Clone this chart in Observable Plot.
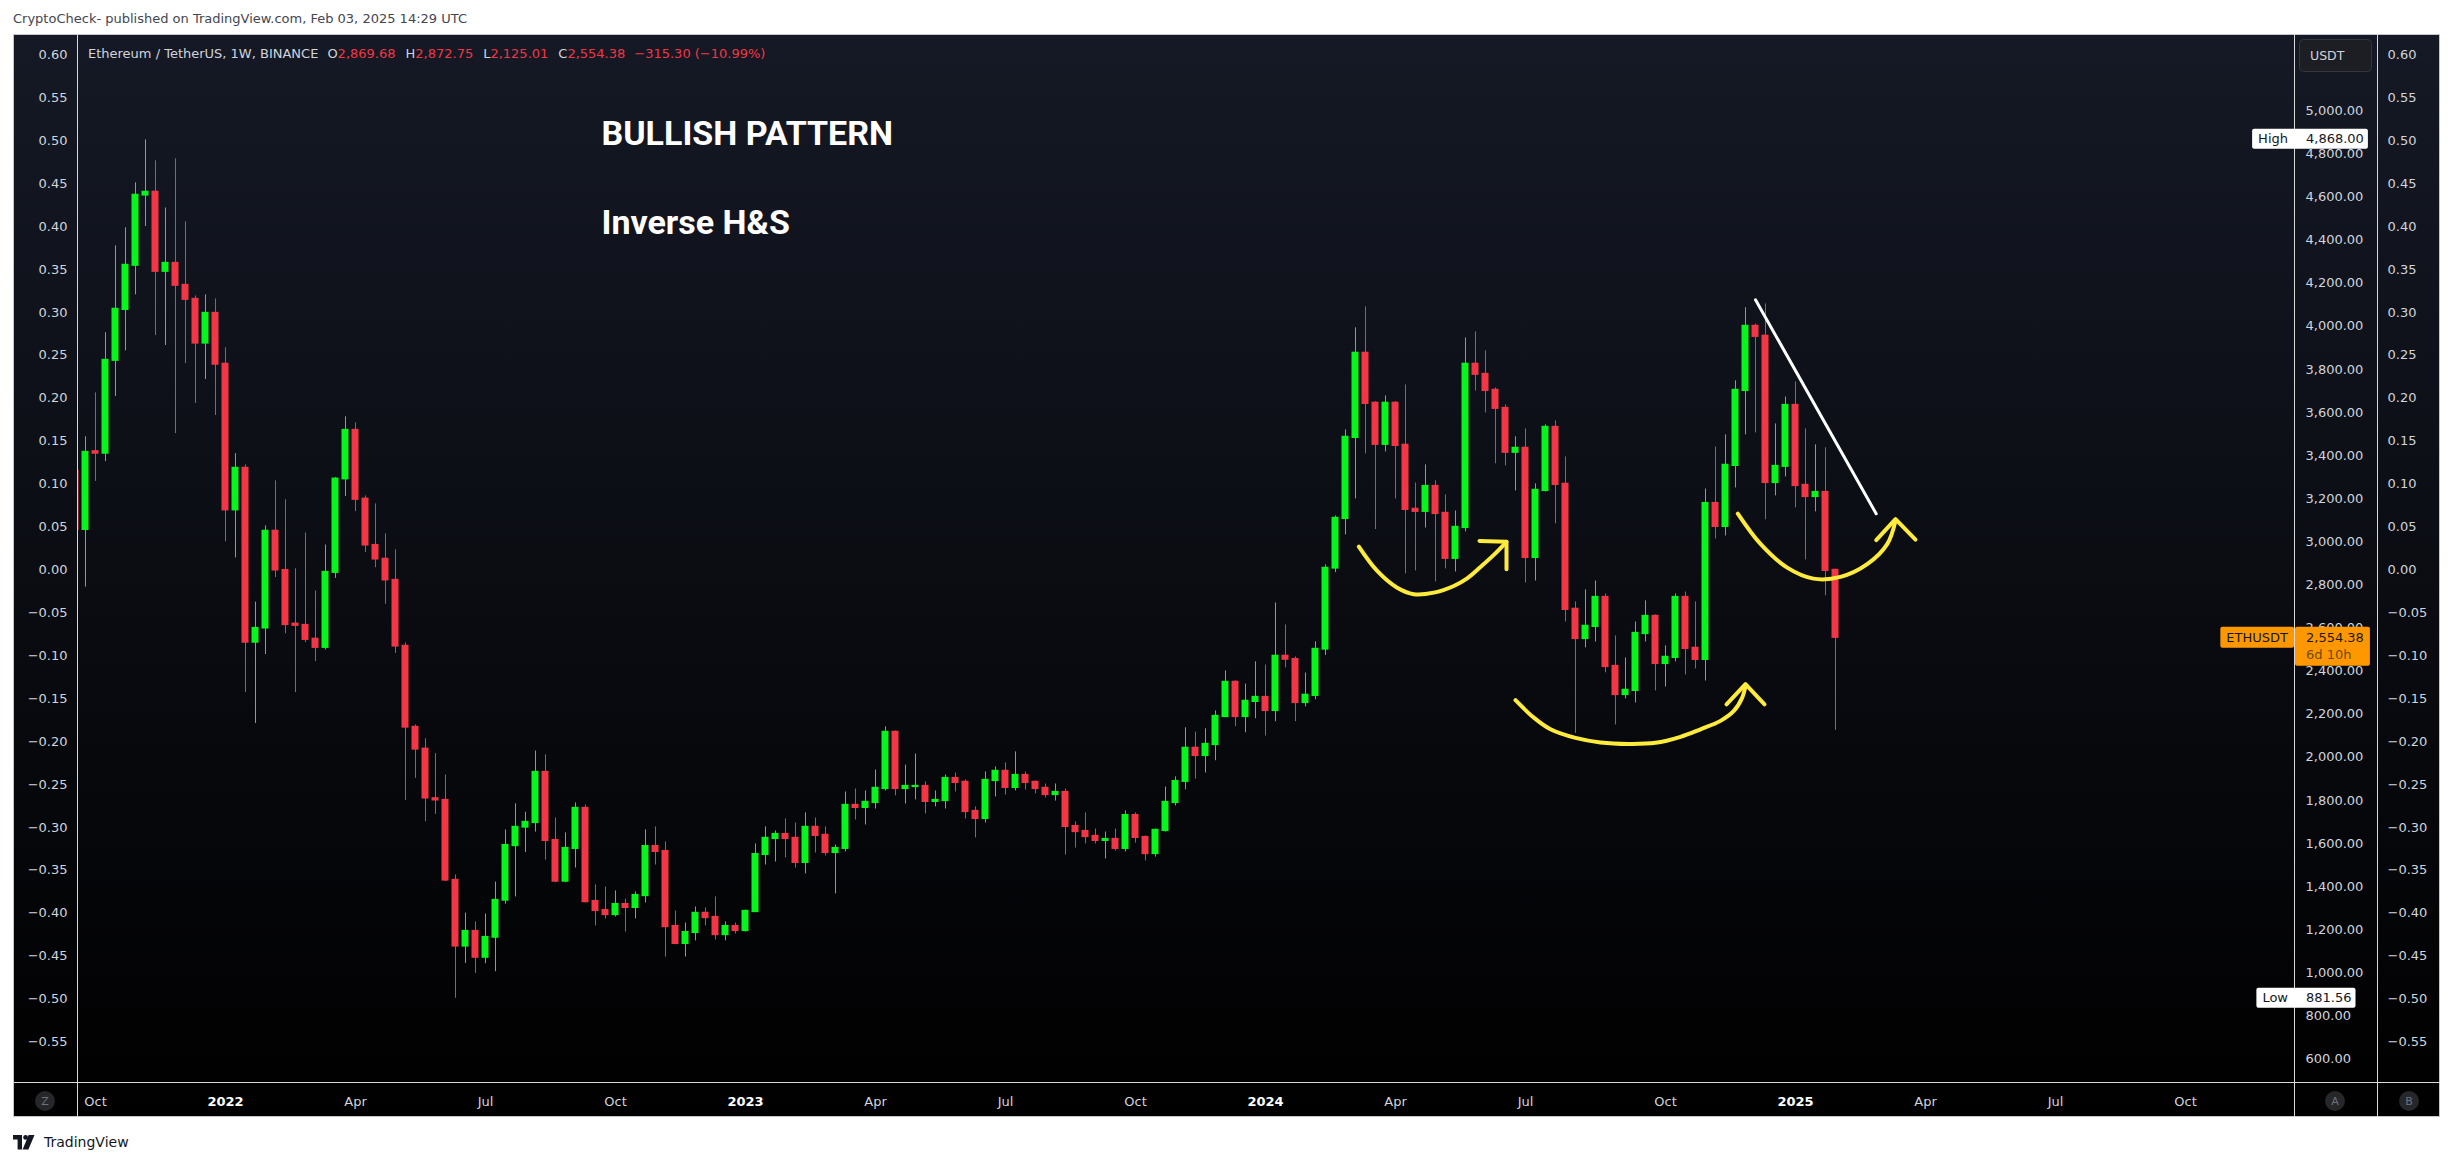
<!DOCTYPE html>
<html><head><meta charset="utf-8">
<script src="https://cdn.jsdelivr.net/npm/d3@7"></script>
<script src="https://cdn.jsdelivr.net/npm/@observablehq/plot@0.6"></script>
<style>
body{margin:0;background:#fff;}
#page{position:relative;width:2454px;height:1162px;overflow:hidden;font-family:"DejaVu Sans",sans-serif;background:#fff;}
#hdr{position:absolute;left:13px;top:10px;font-size:13px;color:#434651;line-height:18px;white-space:nowrap;}
#chart{position:absolute;left:13px;top:34px;}
#ftr{position:absolute;left:13px;top:1133px;height:18px;display:flex;align-items:center;gap:9px;font-size:14px;color:#131722;}
</style></head>
<body><div id="page">
<div id="hdr">CryptoCheck- published on TradingView.com, Feb 03, 2025 14:29 UTC</div>
<div id="chart"></div>
<div id="ftr"><svg width="22" height="15" viewBox="0 0 22 15"><path d="M0 0H9V14.5H4.6V4.4H0Z" fill="#131722"/><circle cx="12.6" cy="2.4" r="2.4" fill="#131722"/><path d="M15.6 0H21.5L15.4 14.5H9.6Z" fill="#131722"/></svg><span>TradingView</span></div>
</div>
<script>
// ---------- data ----------
const firstWeek = "2021-09-20"; // weekly bars, one per Monday
const opens = [3330,3055,3420,3409,3840,4076,4281,4607,4624,4253,4294,4192,4127,3920,4062,3826,3146,3343,2532,2598,3051,2869,2620,2614,2550,2508,2856,3290,3519,3200,2985,2921,2823,2517,2141,2040,1810,1802,1431,1122,1194,1070,1163,1335,1588,1674,1695,1932,1616,1423,1575,1765,1333,1291,1268,1319,1301,1356,1588,1565,1217,1134,1185,1278,1259,1175,1217,1194,1282,1547,1621,1644,1626,1510,1677,1640,1556,1575,1779,1765,1788,1853,2118,1853,1862,1867,1793,1797,1904,1886,1751,1714,1890,1937,1858,1918,1886,1858,1825,1839,1681,1658,1635,1612,1621,1575,1732,1630,1551,1658,1788,1886,2044,2006,2057,2187,2350,2187,2257,2280,2215,2471,2456,2252,2285,2500,2876,3106,3482,3877,3645,3450,3645,3450,3153,3139,3259,3134,2921,3064,3826,3779,3705,3621,3413,3436,2925,3236,3533,3269,2689,2549,2605,2744,2424,2289,2308,2572,2656,2433,2461,2744,2508,2452,3180,3069,3352,3700,4002,3956,3273,3348,3635,3264,3208,3231,2869.68];
const highs = [3460,3487,3691,3970,4373,4457,4666,4865,4768,4549,4777,4485,4141,4146,4127,3900,3409,3357,2720,3074,3283,3195,2875,3041,2772,2985,3298,3580,3552,3213,3176,3037,2963,2531,2150,2086,2017,1918,1454,1277,1236,1273,1421,1663,1784,1745,2029,2011,1718,1649,1788,1779,1408,1398,1380,1342,1375,1663,1677,1607,1287,1231,1305,1301,1352,1236,1231,1291,1598,1677,1658,1714,1695,1742,1718,1677,1593,1839,1853,1844,1941,2141,2122,1964,2015,1886,1844,1918,1927,1895,1770,1932,1955,1974,2025,1932,1890,1876,1876,1853,1700,1742,1667,1653,1667,1751,1742,1635,1667,1862,1909,2137,2117,2132,2215,2401,2355,2340,2443,2428,2716,2614,2466,2391,2536,2893,3120,3519,3993,4090,3650,3677,3650,3728,3273,3357,3283,3218,3143,3946,3974,3886,3714,3635,3487,3524,3269,3543,3561,3394,2721,2777,2818,2758,2563,2461,2628,2726,2661,2517,2758,2767,2721,3245,3440,3496,3747,4086,4010,4104,3547,3672,3742,3524,3450,3436,2872.75];
const lows = [2652,2790,3280,3372,3674,3886,4146,4463,3957,3911,3502,3827,3642,3753,3586,3000,2925,2300,2157,2477,2834,2573,2300,2532,2444,2498,2830,3210,3140,2950,2880,2710,2482,1799,1902,1701,1735,1423,881.56,1043,997,1042,1005,1318,1352,1558,1653,1523,1418,1418,1486,1324,1217,1250,1259,1189,1250,1324,1500,1073,1130,1073,1148,1217,1152,1148,1180,1189,1280,1500,1514,1533,1486,1459,1556,1542,1366,1561,1709,1686,1760,1844,1821,1783,1802,1737,1770,1760,1839,1714,1626,1695,1816,1825,1844,1848,1830,1811,1797,1547,1579,1598,1598,1528,1565,1561,1602,1519,1537,1653,1774,1849,1899,1927,1984,2187,2142,2114,2179,2099,2165,2415,2165,2234,2267,2472,2857,3032,3199,3408,3057,3417,3199,2851,2865,3064,2814,2874,2860,3046,3700,3598,3362,3352,3236,2809,2818,3231,3083,2628,2111,2508,2535,2392,2150,2271,2252,2535,2308,2326,2443,2382,2410,2354,3013,3027,3250,3496,3505,3102,3213,3301,3157,2916,3139,2749,2125.01];
const closes = [3055,3417,3409,3844,4081,4285,4610,4624,4253,4294,4188,4123,3920,4062,3822,3146,3343,2532,2600,3051,2867,2614,2610,2545,2508,2860,3293,3519,3195,2983,2918,2821,2514,2138,2036,1809,1800,1428,1122,1194,1070,1166,1338,1593,1677,1700,1932,1612,1423,1579,1765,1328,1287,1268,1319,1301,1361,1588,1561,1212,1134,1189,1278,1254,1175,1217,1194,1287,1551,1626,1644,1621,1510,1677,1635,1556,1579,1779,1765,1793,1858,2118,1853,1867,1867,1793,1802,1904,1881,1746,1714,1895,1937,1858,1918,1881,1853,1825,1839,1677,1653,1630,1612,1621,1575,1732,1626,1551,1663,1793,1890,2044,2006,2062,2192,2350,2187,2262,2280,2215,2471,2453,2252,2290,2503,2879,3111,3487,3877,3640,3450,3645,3445,3148,3139,3259,3129,2921,3069,3826,3775,3700,3617,3413,3436,2925,3241,3533,3264,2684,2549,2610,2744,2419,2289,2313,2577,2656,2433,2466,2744,2503,2452,3180,3069,3357,3705,4002,3951,3273,3352,3635,3259,3208,3231,2865,2554.38];

const priceTicks = [600,800,1000,1200,1400,1600,1800,2000,2200,2400,2600,2800,3000,3200,3400,3600,3800,4000,4200,4400,4600,4800,5000];
const pctTicks = [0.60,0.55,0.50,0.45,0.40,0.35,0.30,0.25,0.20,0.15,0.10,0.05,0.00,-0.05,-0.10,-0.15,-0.20,-0.25,-0.30,-0.35,-0.40,-0.45,-0.50,-0.55];
const monthTicks = [["2021-10-04","Oct"],["2022-04-04","Apr"],["2022-07-04","Jul"],["2022-10-03","Oct"],["2023-04-03","Apr"],["2023-07-03","Jul"],["2023-10-02","Oct"],["2024-04-01","Apr"],["2024-07-01","Jul"],["2024-10-07","Oct"],["2025-04-07","Apr"],["2025-07-07","Jul"],["2025-10-06","Oct"]];
const yearTicks = [["2022-01-03","2022"],["2023-01-02","2023"],["2024-01-01","2024"],["2025-01-06","2025"]];

// drawings: [weeks since firstWeek, price]
const trendLine = [[168.0,4123],[180.07,3130]];
const arcLeftShoulder = [[128.33,2978],[130.17,2865],[132.17,2787],[133.83,2757],[135.83,2764],[137.83,2795],[139.17,2830],[140.5,2883],[141.83,2939],[143.1,3000]];
const arrowLeftShoulder = [[140.4,3004],[143.1,3000],[143.1,2873]];
const arcHead = [[144.0,2265],[145.83,2184],[147.5,2130],[150,2090],[152.5,2069],[155.3,2062],[158,2067],[160.5,2095],[162.5,2130],[164.5,2169],[165.83,2215],[166.67,2277],[167,2331]];
const arrowHead = [[165.1,2246],[167,2339],[168.9,2246]];
const arcRightShoulder = [[166.23,3131],[168.5,2990],[171.17,2880],[173.8,2829],[176.5,2837],[179.17,2896],[181.17,2989],[182,3097]];
const arrowRightShoulder = [[180.07,3008],[182,3105],[184,3010]];
const notes = [{w:52.6, price:4893, text:"BULLISH PATTERN"},{w:52.6, price:4480, text:"Inverse H&S"}];

const symbolTitle = "Ethereum / TetherUS, 1W, BINANCE";
const ohlcLegend = [["O","2,869.68"],["H","2,872.75"],["L","2,125.01"],["C","2,554.38"]];
const changeText = "\u2212315.30 (\u221210.99%)";
const highTag = {label:"High", price:4868.00};
const lowTag = {label:"Low", price:881.56};
const lastTag = {label:"ETHUSDT", price:2554.38, countdown:"6d 10h"};
const currency = "USDT";
const pctZero = 2869.68, pctPerUnit = 3983;

// ---------- helpers ----------
const GREEN = "#05f51d", RED = "#f23645", YELLOW = "#ffeb3b", AXIS = "#d1d4dc";
const WEEK = 7 * 864e5;
const t0 = Date.parse(firstWeek + "T00:00:00Z");
const weekDate = w => new Date(t0 + w * WEEK);
const candles = opens.map((o, i) => ({w: i, date: weekDate(i), open: o, high: highs[i], low: lows[i], close: closes[i], up: closes[i] >= o}));
const pctToPrice = v => pctZero + v * pctPerUnit;
const priceToPct = p => (p - pctZero) / pctPerUnit;
const fmtPct = p => { const v = Math.round(priceToPct(p) * 100) / 100; return Math.abs(v) < 1e-9 ? "0.00" : (v < 0 ? "\u2212" : "") + Math.abs(v).toFixed(2); };
const mLabel = new Map(monthTicks.map(([d, l]) => [Date.parse(d + "T00:00:00Z"), l]));
const yLabel = new Map(yearTicks.map(([d, l]) => [Date.parse(d + "T00:00:00Z"), l]));
const pt = d => ({x: weekDate(d[0]), y: d[1]});

const W = 2427, H = 1083, ML = 64, MR = 146, MT = 1, MB = 35;
const drawLine = (arr, stroke, sw, curve) => Plot.line(arr.map(pt), {x: "x", y: "y", stroke, strokeWidth: sw, curve, strokeLinecap: "round", strokeLinejoin: "round", clip: true});

const chart = Plot.plot({
  width: W, height: H,
  marginLeft: ML, marginRight: MR, marginTop: MT, marginBottom: MB,
  x: {type: "utc", domain: [weekDate(0.2), weekDate(221.9)]},
  y: {type: "linear", domain: [490.9, 5349.4]},
  style: {fontFamily: "'DejaVu Sans', sans-serif", fontSize: "13px", color: AXIS, background: "transparent", overflow: "visible"},
  marks: [
    Plot.ruleX(candles, {x: "date", y1: "low", y2: "high", stroke: d => d.up ? GREEN : RED, strokeWidth: 1, clip: true}),
    Plot.rect(candles, {x1: d => weekDate(d.w - 0.35), x2: d => weekDate(d.w + 0.35), y1: d => Math.min(d.open, d.close), y2: d => Math.max(d.open, d.close), fill: d => d.up ? GREEN : RED, insetTop: -0.6, insetBottom: -0.6, clip: true}),
    drawLine(trendLine, "#ffffff", 3, "linear"),
    drawLine(arcLeftShoulder, YELLOW, 4, "catmull-rom"),
    drawLine(arrowLeftShoulder, YELLOW, 4, "linear"),
    drawLine(arcHead, YELLOW, 4, "catmull-rom"),
    drawLine(arrowHead, YELLOW, 4, "linear"),
    drawLine(arcRightShoulder, YELLOW, 4, "catmull-rom"),
    drawLine(arrowRightShoulder, YELLOW, 4, "linear"),
    Plot.text(notes, {x: d => weekDate(d.w), y: "price", text: "text", textAnchor: "start", fill: "#ffffff", fontSize: 34, fontWeight: "bold", fontFamily: "Roboto, sans-serif"}),
    Plot.axisY({anchor: "right", ticks: priceTicks, tickFormat: d3.format(",.2f"), tickSize: 0, tickPadding: 11, label: null, fill: AXIS}),
    Plot.axisY({anchor: "right", ticks: pctTicks.map(pctToPrice), tickFormat: fmtPct, tickSize: 0, tickPadding: 93, label: null, fill: AXIS}),
    Plot.axisY({anchor: "left", ticks: pctTicks.map(pctToPrice), tickFormat: fmtPct, tickSize: 0, tickPadding: 10, label: null, fill: AXIS}),
    Plot.axisX({anchor: "bottom", ticks: monthTicks.map(([d]) => new Date(d + "T00:00:00Z")), tickFormat: d => mLabel.get(+d) || "", tickSize: 0, tickPadding: 14, label: null, fill: AXIS}),
    Plot.axisX({anchor: "bottom", ticks: yearTicks.map(([d]) => new Date(d + "T00:00:00Z")), tickFormat: d => yLabel.get(+d) || "", tickSize: 0, tickPadding: 14, label: null, fill: "#ffffff", fontWeight: "bold"})
  ]
});
document.getElementById("chart").appendChild(chart);

// ---------- chrome ----------
const svg = d3.select(chart);
svg.style("background", "linear-gradient(180deg, #151925 0%, #000000 100%)");
const yS = chart.scale("y");
const plotR = W - MR, plotB = H - MB;
const g = svg.append("g").attr("text-anchor", "start").style("font-family", "'DejaVu Sans', sans-serif");
const LINE = "#d9d9d9";
g.append("rect").attr("x", 0.5).attr("y", 0.5).attr("width", W - 1).attr("height", H - 1).attr("fill", "none").attr("stroke", "#c3c5cb");
[ML, plotR, plotR + 83].forEach(x => g.append("line").attr("x1", x + 0.5).attr("x2", x + 0.5).attr("y1", 0).attr("y2", H).attr("stroke", LINE));
g.append("line").attr("x1", 0).attr("x2", W).attr("y1", plotB + 0.5).attr("y2", plotB + 0.5).attr("stroke", LINE);
[[32, "Z"], [plotR + 41, "A"], [plotR + 115, "B"]].forEach(([cx, t]) => {
  g.append("circle").attr("cx", cx).attr("cy", plotB + 19).attr("r", 10).attr("fill", "#26272b");
  g.append("text").attr("x", cx).attr("y", plotB + 19).attr("dy", "0.36em").attr("text-anchor", "middle").attr("fill", "#6f727c").style("font-size", "11px").text(t);
});
// currency box
g.append("rect").attr("x", plotR + 5.5).attr("y", 5.5).attr("width", 72).attr("height", 32).attr("rx", 4).attr("fill", "#1c1e23").attr("stroke", "#33363d");
g.append("text").attr("x", plotR + 16).attr("y", 21.5).attr("dy", "0.36em").attr("text-anchor", "start").attr("fill", AXIS).style("font-size", "12.5px").text(currency);

// legend
const lg = g.append("text").attr("x", ML + 11).attr("y", 19).attr("dy", "0.36em").attr("text-anchor", "start").attr("fill", AXIS).style("font-size", "13px");
lg.append("tspan").text(symbolTitle);
ohlcLegend.forEach(([k, v], i) => { lg.append("tspan").attr("dx", i === 0 ? 9 : 10).text(k); lg.append("tspan").attr("fill", RED).text(v); });
lg.append("tspan").attr("dx", 9).attr("fill", RED).text(changeText);

// high / low tags
function whiteTag(tag) {
  const yc = yS.apply(tag.price);
  const tg = g.append("g");
  const r = tg.append("rect").attr("fill", "#ffffff").attr("rx", 2);
  const w = tg.append("text").attr("x", plotR - 6).attr("y", yc).attr("dy", "0.36em").attr("text-anchor", "end").attr("fill", "#131722").style("font-size", "13px").text(tag.label);
  const v = tg.append("text").attr("x", plotR + 12).attr("y", yc).attr("dy", "0.36em").attr("text-anchor", "start").attr("fill", "#131722").style("font-size", "13px").text(d3.format(",.2f")(tag.price));
  const ww = w.node().getComputedTextLength(), vw = v.node().getComputedTextLength();
  r.attr("x", plotR - 12 - ww).attr("y", yc - 10).attr("height", 20).attr("width", (plotR + 12 + vw + 4) - (plotR - 12 - ww));
}
whiteTag(highTag);
whiteTag(lowTag);

// last price tag
{
  const yc = yS.apply(lastTag.price);
  const tg = g.append("g");
  const r1 = tg.append("rect").attr("fill", "#ff9800").attr("rx", 2);
  const w = tg.append("text").attr("x", plotR - 6).attr("y", yc).attr("dy", "0.36em").attr("text-anchor", "end").attr("fill", "#131722").style("font-size", "13px").text(lastTag.label);
  const ww = w.node().getComputedTextLength();
  r1.attr("x", plotR - ww - 12).attr("y", yc - 10.5).attr("width", ww + 12).attr("height", 21);
  const r2 = tg.append("rect").attr("fill", "#ff9800").attr("rx", 2);
  const v = tg.append("text").attr("x", plotR + 12).attr("y", yc).attr("dy", "0.36em").attr("text-anchor", "start").attr("fill", "#1a1a1a").style("font-size", "13px").text(d3.format(",.2f")(lastTag.price));
  tg.append("text").attr("x", plotR + 12).attr("y", yc + 17).attr("dy", "0.36em").attr("text-anchor", "start").attr("fill", "#6b4a10").style("font-size", "13px").text(lastTag.countdown);
  const vw = v.node().getComputedTextLength();
  r2.attr("x", plotR + 1).attr("y", yc - 10.5).attr("width", vw + 17).attr("height", 39);
  tg.raise();
}
</script></body></html>
